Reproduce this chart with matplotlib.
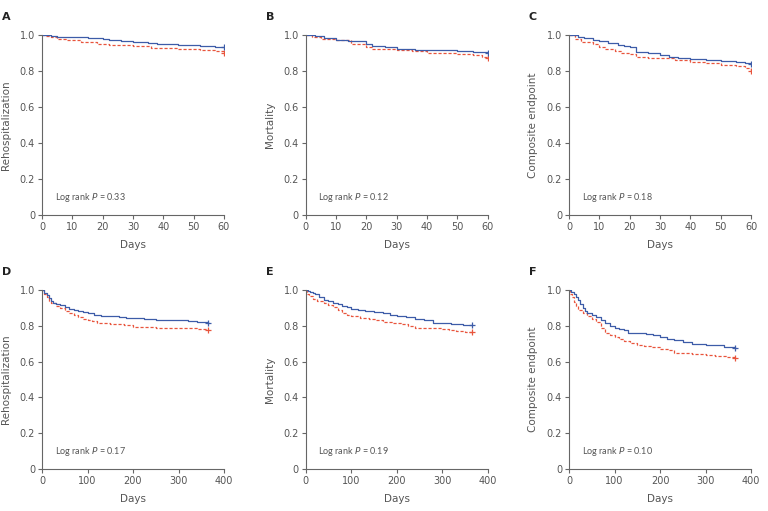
import matplotlib.pyplot as plt

# ---- data (step curves: time, survival) ----
# short-term (60 days)
a_blue_t = [0, 3, 5, 10, 15, 20, 22, 26, 30, 35, 38, 45, 52, 57, 60]
a_blue_s = [1.0, 0.995, 0.99, 0.988, 0.985, 0.98, 0.97, 0.965, 0.96, 0.955, 0.95, 0.945, 0.94, 0.935, 0.933]
a_red_t = [0, 1, 3, 5, 8, 13, 18, 22, 30, 36, 45, 52, 57, 60]
a_red_s = [1.0, 0.995, 0.99, 0.98, 0.97, 0.96, 0.95, 0.945, 0.94, 0.93, 0.92, 0.915, 0.91, 0.90]

b_blue_t = [0, 3, 6, 10, 14, 20, 22, 26, 30, 36, 44, 50, 55, 60]
b_blue_s = [1.0, 0.995, 0.985, 0.975, 0.965, 0.952, 0.94, 0.932, 0.922, 0.918, 0.915, 0.91, 0.905, 0.90]
b_red_t = [0, 2, 5, 10, 15, 20, 22, 26, 30, 35, 40, 45, 50, 55, 58, 60]
b_red_s = [1.0, 0.99, 0.98, 0.97, 0.95, 0.934, 0.925, 0.92, 0.915, 0.91, 0.90, 0.898, 0.894, 0.89, 0.88, 0.873]

c_blue_t = [0, 3, 5, 8, 10, 13, 16, 18, 20, 22, 26, 30, 33, 36, 40, 45, 50, 55, 58, 60]
c_blue_s = [1.0, 0.99, 0.985, 0.975, 0.967, 0.955, 0.945, 0.94, 0.934, 0.906, 0.9, 0.89, 0.88, 0.87, 0.867, 0.86, 0.855, 0.85, 0.845, 0.84]
c_red_t = [0, 2, 4, 8, 10, 12, 15, 17, 20, 22, 26, 30, 35, 40, 45, 50, 55, 58, 60]
c_red_s = [1.0, 0.98, 0.96, 0.95, 0.934, 0.92, 0.91, 0.90, 0.895, 0.88, 0.875, 0.87, 0.86, 0.85, 0.845, 0.835, 0.83, 0.815, 0.80]

# long-term (1 year)
d_blue_t = [0, 5, 10, 15, 20, 25, 30, 40, 50, 60, 70, 80, 90, 100, 115, 130, 150, 170, 185,
            200, 225, 250, 300, 320, 340, 365]
d_blue_s = [1.0, 0.985, 0.97, 0.955, 0.94, 0.93, 0.92, 0.915, 0.907, 0.896, 0.888, 0.88, 0.875,
            0.87, 0.863, 0.857, 0.853, 0.85, 0.846, 0.842, 0.836, 0.83, 0.83, 0.826, 0.822, 0.818]
d_red_t = [0, 5, 10, 15, 20, 30, 40, 50, 60, 70, 80, 90, 100, 110, 120, 150, 180, 200, 225,
           250, 275, 300, 340, 365]
d_red_s = [1.0, 0.98, 0.96, 0.94, 0.926, 0.912, 0.90, 0.885, 0.87, 0.858, 0.848, 0.84, 0.833,
           0.825, 0.818, 0.812, 0.805, 0.795, 0.792, 0.79, 0.787, 0.785, 0.78, 0.776]

e_blue_t = [0, 5, 10, 15, 20, 30, 40, 50, 60, 70, 80, 90, 100, 115, 130, 150, 170, 185, 200,
            220, 240, 260, 280, 300, 320, 345, 365]
e_blue_s = [1.0, 0.995, 0.99, 0.985, 0.975, 0.96, 0.944, 0.937, 0.93, 0.92, 0.91, 0.903, 0.896,
            0.89, 0.883, 0.877, 0.87, 0.862, 0.856, 0.848, 0.84, 0.83, 0.818, 0.815, 0.81, 0.807, 0.804]
e_red_t = [0, 3, 8, 15, 25, 40, 50, 60, 70, 80, 90, 100, 120, 140, 155, 170, 190, 210, 225,
           240, 270, 300, 315, 330, 350, 365]
e_red_s = [1.0, 0.98, 0.965, 0.95, 0.94, 0.926, 0.917, 0.907, 0.888, 0.87, 0.86, 0.852, 0.845,
           0.837, 0.83, 0.822, 0.816, 0.81, 0.80, 0.79, 0.785, 0.78, 0.775, 0.77, 0.766, 0.763]

f_blue_t = [0, 5, 10, 15, 20, 25, 30, 35, 40, 50, 60, 70, 80, 90, 100, 110, 120, 130, 150, 170,
            185, 200, 215, 230, 250, 270, 300, 320, 340, 365]
f_blue_s = [1.0, 0.99, 0.98, 0.96, 0.944, 0.92, 0.90, 0.885, 0.87, 0.86, 0.848, 0.83, 0.815, 0.80,
            0.787, 0.78, 0.774, 0.76, 0.758, 0.756, 0.746, 0.737, 0.728, 0.72, 0.71, 0.698, 0.695,
            0.69, 0.68, 0.674]
f_red_t = [0, 3, 6, 10, 15, 20, 30, 40, 50, 60, 70, 80, 90, 100, 110, 120, 135, 150, 165, 180,
           200, 220, 230, 270, 300, 320, 345, 365]
f_red_s = [1.0, 0.98, 0.96, 0.935, 0.91, 0.89, 0.87, 0.852, 0.84, 0.824, 0.79, 0.76, 0.748, 0.737,
           0.725, 0.713, 0.703, 0.694, 0.687, 0.68, 0.672, 0.663, 0.648, 0.643, 0.637, 0.63, 0.624, 0.618]

panel_letters = ['A', 'B', 'C', 'D', 'E', 'F']
y_labels = ['Rehospitalization', 'Mortality', 'Composite endpoint'] * 2
p_values = ['0.33', '0.12', '0.18', '0.17', '0.19', '0.10']

blue_curves = [(a_blue_t, a_blue_s), (b_blue_t, b_blue_s), (c_blue_t, c_blue_s),
               (d_blue_t, d_blue_s), (e_blue_t, e_blue_s), (f_blue_t, f_blue_s)]
red_curves = [(a_red_t, a_red_s), (b_red_t, b_red_s), (c_red_t, c_red_s),
              (d_red_t, d_red_s), (e_red_t, e_red_s), (f_red_t, f_red_s)]

BLUE = '#3d5ca8'
RED = '#e8553d'
GRAY = '#555555'

fig = plt.figure(figsize=(7.68, 5.11), dpi=100)

lefts = [42, 305.7, 569]
rows = [(35, 215), (290, 469)]

for i in range(6):
    r, c = divmod(i, 3)
    top, bot = rows[r]
    ax = fig.add_axes([lefts[c] / 768, 1 - bot / 511, 182 / 768, (bot - top) / 511])

    bt, bs = blue_curves[i]
    rt, rs = red_curves[i]
    ax.step(rt, rs, where='post', color=RED, lw=0.9, ls=(0, (2.5, 1.5)))
    ax.step(bt, bs, where='post', color=BLUE, lw=0.9)
    ax.plot(rt[-1], rs[-1], marker='+', color=RED, ms=4, mew=0.9)
    ax.plot(bt[-1], bs[-1], marker='+', color=BLUE, ms=4, mew=0.9)

    if r == 0:
        ax.set_xlim(0, 60)
        ax.set_xticks(range(0, 61, 10))
        xmax = 60
    else:
        ax.set_xlim(0, 400)
        ax.set_xticks(range(0, 401, 100))
        xmax = 400
    ax.set_ylim(0, 1.0)
    ax.set_yticks([0, 0.2, 0.4, 0.6, 0.8, 1.0])
    ax.set_yticklabels(['0', '0.2', '0.4', '0.6', '0.8', '1.0'])

    for s in ['top', 'right']:
        ax.spines[s].set_visible(False)
    for s in ['left', 'bottom']:
        ax.spines[s].set_color('#666666')
        ax.spines[s].set_linewidth(0.8)
    ax.tick_params(colors='#666666', labelcolor=GRAY, labelsize=7, length=3, width=0.8, pad=2)
    ax.set_xlabel('Days', fontsize=7.5, color=GRAY, labelpad=6)
    ax.set_ylabel(y_labels[i], fontsize=7.5, color=GRAY, labelpad=6)

    ax.text(0.07 * xmax, 0.1, f'Log rank $P$ = {p_values[i]}', fontsize=6.5, color=GRAY,
            va='center', ha='left', family='Lato')
    ax.text(-0.22, 1.1, panel_letters[i], transform=ax.transAxes, fontsize=8,
            fontweight='bold', color='#222222', va='center', ha='left')

plt.savefig('out.png', dpi=100)
